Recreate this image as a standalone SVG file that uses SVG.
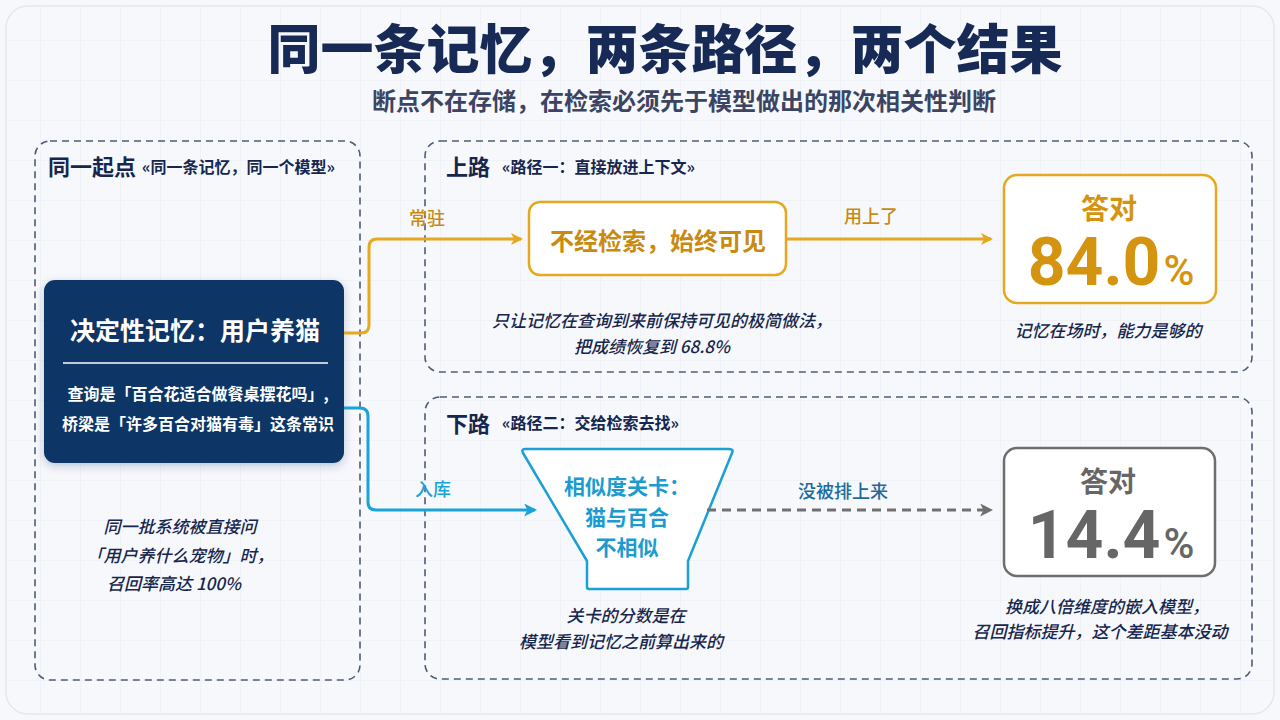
<svg xmlns="http://www.w3.org/2000/svg" width="1280" height="720" viewBox="0 0 1280 720">
<defs>
<pattern id="grid" width="40" height="40" patternUnits="userSpaceOnUse">
<path d="M40 0H0V40" fill="none" stroke="#e8ecf2" stroke-width="1"/>
</pattern>
<filter id="shadow" x="-10%" y="-10%" width="120%" height="130%"><feDropShadow dx="0" dy="3" stdDeviation="4" flood-color="#0f3566" flood-opacity="0.25"/></filter>
<marker id="arrGold" viewBox="0 0 12 12" refX="10" refY="6" markerWidth="12" markerHeight="12" markerUnits="userSpaceOnUse" orient="auto"><path d="M0 0 L12 6 L0 12 L3 6 Z" fill="#e6a81e"/></marker>
<marker id="arrBlue" viewBox="0 0 12 12" refX="10" refY="6" markerWidth="13" markerHeight="13" markerUnits="userSpaceOnUse" orient="auto"><path d="M0 0 L12 6 L0 12 L3 6 Z" fill="#19a3d6"/></marker>
<marker id="arrGray" viewBox="0 0 12 12" refX="10" refY="6" markerWidth="13" markerHeight="13" markerUnits="userSpaceOnUse" orient="auto"><path d="M0 0 L12 6 L0 12 L3 6 Z" fill="#707070"/></marker>
</defs>
<style>
text{font-family:"Noto Sans CJK SC","Noto Sans",sans-serif}
.panel{fill:none;stroke:#4f5b78;stroke-width:1.6;stroke-dasharray:7 5}
.ptitle{font-size:22px;font-weight:700;fill:#16264d}
.psub{font-size:16px;font-weight:700;fill:#16264d}
.note{font-size:17px;font-weight:500;fill:#16264d;font-style:italic;text-anchor:middle}
.gold{fill:#c98a10}
.goldbox{fill:#ffffff;stroke:#e6a81e;stroke-width:2.5}
.graybox{fill:#ffffff;stroke:#6e6e6e;stroke-width:2.5}
.lbl{font-size:18px;font-weight:500;text-anchor:middle}
.big{font-family:"Roboto","Noto Sans",sans-serif;font-weight:700;font-size:66px;text-anchor:middle}
.pct{font-weight:500;font-size:42px}
</style>
<rect width="1280" height="720" fill="#f6f8fb"/>
<rect x="6" y="6" width="1268" height="708" rx="22" fill="url(#grid)" stroke="#e3e7ee" stroke-width="1.5"/>

<g id="title">
<text x="665" y="69" text-anchor="middle" font-size="53" font-weight="900" fill="#172a55">同一条记忆，两条路径，两个结果</text>
<text x="684" y="110" text-anchor="middle" font-size="24" font-weight="700" fill="#3b4563">断点不在存储，在检索必须先于模型做出的那次相关性判断</text>
</g>

<g id="panel-start">
<rect class="panel" x="35" y="141" width="325" height="539" rx="15"/>
<text class="ptitle" x="48" y="175">同一起点</text>
<text class="psub" x="142" y="173">«同一条记忆，同一个模型»</text>
<text class="note" x="180" y="533" font-size="18">同一批系统被直接问</text>
<text class="note" x="180" y="562" font-size="18">「用户养什么宠物」时，</text>
<text class="note" x="174" y="590" font-size="18">召回率高达 100%</text>
</g>

<g id="node-memory">
<rect x="44" y="280" width="300" height="183" rx="11" fill="#0f3566" filter="url(#shadow)"/>
<text x="195" y="340" text-anchor="middle" font-size="25" font-weight="700" fill="#ffffff">决定性记忆：用户养猫</text>
<line x1="63" y1="363" x2="328" y2="363" stroke="#ffffff" stroke-width="1.5"/>
<text x="198" y="400" text-anchor="middle" font-size="16" font-weight="700" fill="#ffffff">查询是「百合花适合做餐桌摆花吗」,</text>
<text x="198" y="430" text-anchor="middle" font-size="16" font-weight="700" fill="#ffffff">桥梁是「许多百合对猫有毒」这条常识</text>
</g>

<g id="panel-top">
<rect class="panel" x="425" y="141" width="827" height="231" rx="15"/>
<text class="ptitle" x="446" y="175">上路</text>
<text class="psub" x="502" y="173">«路径一：直接放进上下文»</text>
<text class="note" x="662" y="327" font-size="16">只让记忆在查询到来前保持可见的极简做法，</text>
<text class="note" x="652" y="353">把成绩恢复到 68.8%</text>
<text class="note" x="1108" y="337">记忆在场时，能力是够的</text>
</g>

<g id="node-visible">
<rect class="goldbox" x="529" y="202" width="257" height="73" rx="11"/>
<text x="658" y="250" text-anchor="middle" font-size="24" font-weight="700" fill="#c98a10">不经检索，始终可见</text>
</g>

<g id="node-result-top">
<rect class="goldbox" x="1004" y="175" width="212" height="128" rx="13"/>
<text x="1109" y="219" text-anchor="middle" font-size="28" font-weight="700" fill="#d4940f">答对</text>
<text class="big" x="1111" y="285" fill="#d4940f">84.0<tspan class="pct" dx="3">%</tspan></text>
</g>

<g id="panel-bottom">
<rect class="panel" x="425" y="397" width="827" height="282" rx="15"/>
<text class="ptitle" x="446" y="432">下路</text>
<text class="psub" x="502" y="429">«路径二：交给检索去找»</text>
<text class="note" x="626" y="622">关卡的分数是在</text>
<text class="note" x="621" y="648">模型看到记忆之前算出来的</text>
<text class="note" x="1107" y="613">换成八倍维度的嵌入模型，</text>
<text class="note" x="1100" y="638">召回指标提升，这个差距基本没动</text>
</g>

<g id="node-gate">
<path d="M525 449 H729 Q734 449 732 453 L688 561 V587 Q688 589 686 589 H589 Q587 589 587 587 V561 L523 453 Q521 449 525 449 Z" fill="#ffffff" stroke="#1aa0d4" stroke-width="2.5" stroke-linejoin="round"/>
<text x="627" y="494" text-anchor="middle" font-size="21" font-weight="700" fill="#1c9bd0">相似度关卡：</text>
<text x="627" y="525" text-anchor="middle" font-size="21" font-weight="700" fill="#1c9bd0">猫与百合</text>
<text x="627" y="555" text-anchor="middle" font-size="21" font-weight="700" fill="#1c9bd0">不相似</text>
</g>

<g id="node-result-bottom">
<rect class="graybox" x="1004" y="448" width="211" height="128" rx="13"/>
<text x="1108" y="492" text-anchor="middle" font-size="28" font-weight="700" fill="#666666">答对</text>
<text class="big" x="1111" y="558" fill="#666666">14.4<tspan class="pct" dx="3">%</tspan></text>
</g>

<g id="connectors" fill="none">
<path d="M344 333 H361 Q369 333 369 325 V247 Q369 239 377 239 H521" stroke="#e6a81e" stroke-width="3" marker-end="url(#arrGold)"/>
<text class="lbl gold" x="427" y="225" stroke="none">常驻</text>
<path d="M786 239 H991" stroke="#e6a81e" stroke-width="3" marker-end="url(#arrGold)"/>
<text class="lbl gold" x="871" y="223" stroke="none">用上了</text>
<path d="M344 408 H360 Q368 408 368 416 V502 Q368 510 376 510 H535" stroke="#19a3d6" stroke-width="3" marker-end="url(#arrBlue)"/>
<text class="lbl" x="433" y="496" fill="#19a3d6" stroke="none">入库</text>
<path d="M707 510 H991" stroke="#707070" stroke-width="3" stroke-dasharray="9 6" marker-end="url(#arrGray)"/>
<text class="lbl" x="843" y="498" font-size="19" fill="#1d6b9c" stroke="none">没被排上来</text>
</g>
</svg>
